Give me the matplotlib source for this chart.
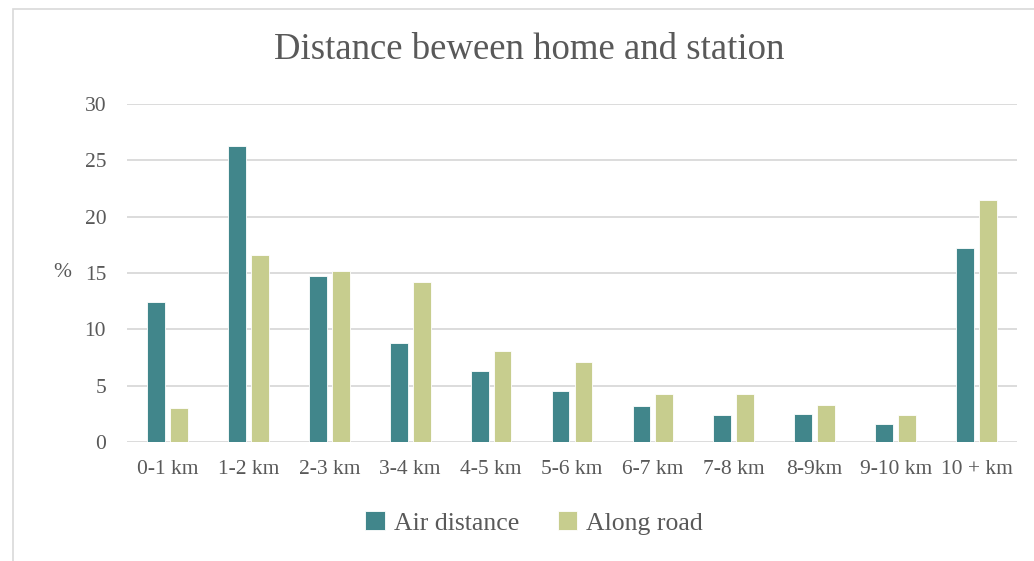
import numpy as np
import matplotlib.pyplot as plt
from matplotlib.patches import Rectangle

categories = ["0-1 km", "1-2 km", "2-3 km", "3-4 km", "4-5 km", "5-6 km",
              "6-7 km", "7-8 km", "8-9km", "9-10 km", "10 + km"]
air_distance = [12.4, 26.3, 14.7, 8.8, 6.3, 4.5, 3.2, 2.4, 2.5, 1.6, 17.2]
along_road = [3.0, 16.6, 15.2, 14.2, 8.1, 7.1, 4.3, 4.3, 3.3, 2.4, 21.5]

plt.rcParams['font.family'] = ['Liberation Serif', 'DejaVu Serif']
text_color = "#595959"

fig = plt.figure(figsize=(10.34, 5.61), dpi=100)
# light frame around the chart area (only top and left edges are inside the image)
fig.patches.append(Rectangle((13 / 1034, -0.2), 1.2, 1.2 - 8.5 / 561, transform=fig.transFigure,
                             fill=False, edgecolor="#D9D9D9", linewidth=1.2))

ax = fig.add_axes([127 / 1034, 1 - 442 / 561, 890 / 1034, 338 / 561])
x = np.arange(len(categories))
w = 0.22
ax.bar(x - 0.142, air_distance, w, color="#41868B", edgecolor="white", linewidth=0.6,
       label="Air distance", zorder=3)
ax.bar(x + 0.142, along_road, w, color="#C7CD8E", edgecolor="white", linewidth=0.6,
       label="Along road", zorder=3)

ax.set_xlim(-0.5, len(categories) - 0.5)
ax.set_ylim(0, 30)
ax.set_yticks(range(0, 31, 5))
ax.set_xticks(x)
ax.set_xticklabels(categories)
ax.grid(axis="y", color="#D9D9D9", linewidth=1.3, zorder=0)
for s in ax.spines.values():
    s.set_visible(False)
ax.tick_params(axis="both", length=0, colors=text_color, labelsize=15.5)
ax.tick_params(axis="y", pad=15)
ax.tick_params(axis="x", pad=13)

ax.set_ylabel("%", rotation=0, color=text_color, fontsize=15.5, labelpad=16, va="center")

fig.text(529 / 1034, 1 - 50 / 561, "Distance beween home and station", ha="center", va="center",
         fontsize=26.5, color=text_color)

leg = ax.legend(loc="center", bbox_to_anchor=((534 - 127) / 890, -0.24), ncol=2, frameon=False,
                fontsize=18.5, handlelength=0.75, handleheight=0.75, handletextpad=0.35,
                columnspacing=1.5)
for t in leg.get_texts():
    t.set_color(text_color)

fig.savefig("out.png", dpi=100)
